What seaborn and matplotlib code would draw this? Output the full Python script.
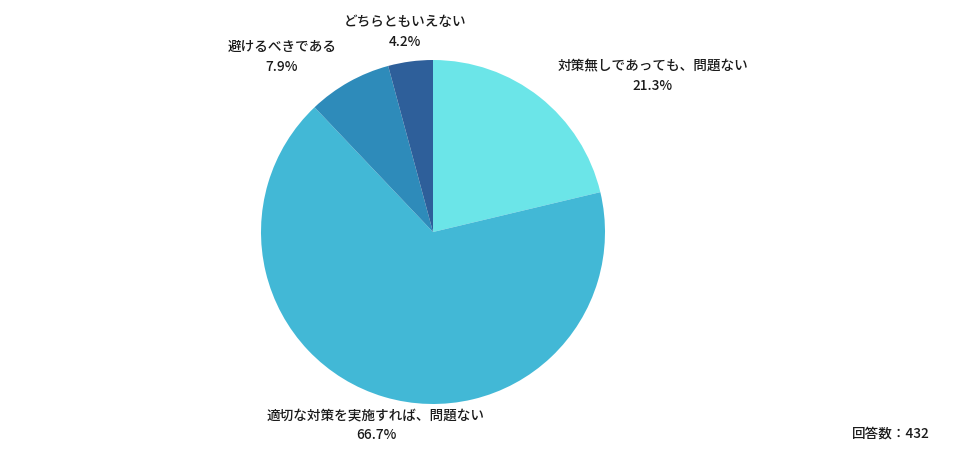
import matplotlib
matplotlib.use("Agg")
import matplotlib.pyplot as plt
import seaborn as sns

# data
labels = ["対策無しであっても、問題ない", "適切な対策を実施すれば、問題ない", "避けるべきである", "どちらともいえない"]
values = [21.3, 66.7, 7.9, 4.2]
colors = ["#6be5e8", "#42b8d6", "#2e8bba", "#2e5f9a"]
n_answers = 432

sns.set_theme(style="white")
plt.rcParams["font.family"] = ["Noto Sans CJK JP", "DejaVu Sans"]

W, H = 976, 459
fig = plt.figure(figsize=(W / 100, H / 100), dpi=100)
fig.patch.set_facecolor("white")

cx, cy, r = 433, 232, 172
ax = fig.add_axes([(cx - r) / W, (H - cy - r) / H, 2 * r / W, 2 * r / H])
ax.pie(values, colors=colors, startangle=90, counterclock=False,
       wedgeprops=dict(linewidth=0), radius=1)
ax.set_xlim(-1, 1)
ax.set_ylim(-1, 1)
ax.set_aspect("equal")
ax.axis("off")

# label anchor points (pixel coords of the text centre)
label_pos = [(653, 66), (376, 415), (282, 47), (405, 22)]
for lab, v, (px, py) in zip(labels, values, label_pos):
    fig.text(px / W, 1 - py / H, lab, ha="center", va="center", fontsize=9.8,
             color="#1a1a1a", fontweight="medium")
    fig.text(px / W, 1 - (py + 20) / H, f"{v}%", ha="center", va="center", fontsize=9.8,
             color="#1a1a1a", fontweight="medium")

fig.text(930 / W, 1 - 434 / H, f"回答数：{n_answers}", ha="right", va="center", fontsize=9.8,
         color="#1a1a1a", fontweight="medium")

fig.savefig("out.png", dpi=100)
